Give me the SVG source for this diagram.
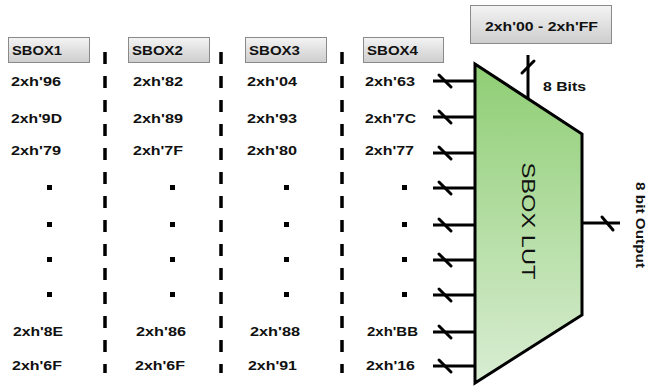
<svg xmlns="http://www.w3.org/2000/svg" width="647" height="388" viewBox="0 0 647 388">
  <style>
    .hdr { fill: url(#btn); stroke: #8a8a8a; stroke-width: 1; }
    .t { font-family: "Liberation Sans", Arial, sans-serif; font-weight: bold; font-size: 13.5px; fill: #111; }
    .sep { stroke: #000; stroke-width: 3.5; stroke-dasharray: 12 12; fill: none; }
    .dot { fill: #000; }
    .wire { stroke: #000; stroke-width: 3; fill: none; }
    .tick { stroke: #000; stroke-width: 3; stroke-linecap: round; fill: none; }
    .lut { fill: url(#green); stroke: #000; stroke-width: 3; stroke-linejoin: miter; }
  </style>
  <defs>
    <linearGradient id="btn" x1="0" y1="0" x2="0" y2="1">
      <stop offset="0" stop-color="#f4f4f4"/>
      <stop offset="1" stop-color="#cdcdcd"/>
    </linearGradient>
    <linearGradient id="green" x1="0" y1="0" x2="0" y2="1">
      <stop offset="0" stop-color="#8fce74"/>
      <stop offset="1" stop-color="#d9edd3"/>
    </linearGradient>
  </defs>

  <rect width="647" height="388" fill="#fff"/>

  <!-- column separators -->
  <g id="separators">
    <line class="sep" x1="105" y1="52" x2="105" y2="373"/>
    <line class="sep" x1="221" y1="52" x2="221" y2="373"/>
    <line class="sep" x1="342" y1="52" x2="342" y2="373"/>
  </g>

  <!-- SBOX columns -->
  <g id="sbox1">
    <rect class="hdr" x="8.5" y="37.5" width="81" height="25"/>
    <text class="t" x="12" y="55" textLength="50" lengthAdjust="spacingAndGlyphs">SBOX1</text>
    <text class="t" x="11" y="86" textLength="50" lengthAdjust="spacingAndGlyphs">2xh'96</text>
    <text class="t" x="11" y="123" textLength="51" lengthAdjust="spacingAndGlyphs">2xh'9D</text>
    <text class="t" x="11" y="155" textLength="50" lengthAdjust="spacingAndGlyphs">2xh'79</text>
    <rect class="dot" x="47" y="185" width="5" height="5"/>
    <rect class="dot" x="47" y="222" width="5" height="5"/>
    <rect class="dot" x="47" y="257" width="5" height="5"/>
    <rect class="dot" x="47" y="292" width="5" height="5"/>
    <text class="t" x="13" y="336" textLength="50" lengthAdjust="spacingAndGlyphs">2xh'8E</text>
    <text class="t" x="12" y="370" textLength="50" lengthAdjust="spacingAndGlyphs">2xh'6F</text>
  </g>

  <g id="sbox2">
    <rect class="hdr" x="128.5" y="37.5" width="81" height="25"/>
    <text class="t" x="132" y="55" textLength="51" lengthAdjust="spacingAndGlyphs">SBOX2</text>
    <text class="t" x="133" y="86" textLength="50" lengthAdjust="spacingAndGlyphs">2xh'82</text>
    <text class="t" x="133" y="123" textLength="50" lengthAdjust="spacingAndGlyphs">2xh'89</text>
    <text class="t" x="133" y="155" textLength="50" lengthAdjust="spacingAndGlyphs">2xh'7F</text>
    <rect class="dot" x="170" y="185" width="5" height="5"/>
    <rect class="dot" x="170" y="222" width="5" height="5"/>
    <rect class="dot" x="170" y="257" width="5" height="5"/>
    <rect class="dot" x="170" y="292" width="5" height="5"/>
    <text class="t" x="136" y="336" textLength="50" lengthAdjust="spacingAndGlyphs">2xh'86</text>
    <text class="t" x="135" y="370" textLength="50" lengthAdjust="spacingAndGlyphs">2xh'6F</text>
  </g>

  <g id="sbox3">
    <rect class="hdr" x="245.5" y="37.5" width="81" height="25"/>
    <text class="t" x="249" y="55" textLength="51" lengthAdjust="spacingAndGlyphs">SBOX3</text>
    <text class="t" x="247" y="86" textLength="50" lengthAdjust="spacingAndGlyphs">2xh'04</text>
    <text class="t" x="247" y="123" textLength="50" lengthAdjust="spacingAndGlyphs">2xh'93</text>
    <text class="t" x="247" y="155" textLength="50" lengthAdjust="spacingAndGlyphs">2xh'80</text>
    <rect class="dot" x="284" y="185" width="5" height="5"/>
    <rect class="dot" x="284" y="222" width="5" height="5"/>
    <rect class="dot" x="284" y="257" width="5" height="5"/>
    <rect class="dot" x="284" y="292" width="5" height="5"/>
    <text class="t" x="250" y="336" textLength="50" lengthAdjust="spacingAndGlyphs">2xh'88</text>
    <text class="t" x="248" y="370" textLength="49" lengthAdjust="spacingAndGlyphs">2xh'91</text>
  </g>

  <g id="sbox4">
    <rect class="hdr" x="363.5" y="37.5" width="80" height="25"/>
    <text class="t" x="367" y="55" textLength="51" lengthAdjust="spacingAndGlyphs">SBOX4</text>
    <text class="t" x="365" y="86" textLength="50" lengthAdjust="spacingAndGlyphs">2xh'63</text>
    <text class="t" x="365" y="123" textLength="51" lengthAdjust="spacingAndGlyphs">2xh'7C</text>
    <text class="t" x="365" y="155" textLength="49" lengthAdjust="spacingAndGlyphs">2xh'77</text>
    <rect class="dot" x="402" y="185" width="5" height="5"/>
    <rect class="dot" x="402" y="222" width="5" height="5"/>
    <rect class="dot" x="402" y="257" width="5" height="5"/>
    <rect class="dot" x="402" y="292" width="5" height="5"/>
    <text class="t" x="367" y="336" textLength="51" lengthAdjust="spacingAndGlyphs">2xh'BB</text>
    <text class="t" x="366" y="370" textLength="49" lengthAdjust="spacingAndGlyphs">2xh'16</text>
  </g>

  <!-- address range box -->
  <g id="addr">
    <rect class="hdr" x="470.5" y="5.5" width="141" height="38"/>
    <text class="t" x="485" y="31" textLength="113" lengthAdjust="spacingAndGlyphs">2xh'00 - 2xh'FF</text>
  </g>

  <!-- bus connectors -->
  <g id="connectors">
    <line class="wire" x1="433" y1="81" x2="475" y2="81"/>
    <line class="wire" x1="433" y1="117" x2="475" y2="117"/>
    <line class="wire" x1="433" y1="153" x2="475" y2="153"/>
    <line class="wire" x1="433" y1="188" x2="475" y2="188"/>
    <line class="wire" x1="433" y1="225" x2="475" y2="225"/>
    <line class="wire" x1="433" y1="260" x2="475" y2="260"/>
    <line class="wire" x1="433" y1="295" x2="475" y2="295"/>
    <line class="wire" x1="433" y1="332" x2="475" y2="332"/>
    <line class="wire" x1="433" y1="366" x2="475" y2="366"/>
    <line class="tick" x1="439" y1="75" x2="451" y2="87"/>
    <line class="tick" x1="439" y1="111" x2="451" y2="123"/>
    <line class="tick" x1="439" y1="147" x2="451" y2="159"/>
    <line class="tick" x1="439" y1="182" x2="451" y2="194"/>
    <line class="tick" x1="439" y1="219" x2="451" y2="231"/>
    <line class="tick" x1="439" y1="254" x2="451" y2="266"/>
    <line class="tick" x1="439" y1="289" x2="451" y2="301"/>
    <line class="tick" x1="439" y1="326" x2="451" y2="338"/>
    <line class="tick" x1="439" y1="360" x2="451" y2="372"/>
    <!-- 8-bit address bus -->
    <line class="wire" x1="528" y1="55" x2="528" y2="100"/>
    <line class="tick" x1="522" y1="73" x2="534" y2="61"/>
    <!-- 8-bit output bus -->
    <line class="wire" x1="582" y1="223" x2="620" y2="223"/>
    <line class="tick" x1="602" y1="217" x2="613" y2="230"/>
  </g>

  <!-- lookup table -->
  <g id="lut">
    <polygon class="lut" points="475,64 582,134 582,315 475,383"/>
    <text x="522" y="221" transform="rotate(90 522 221)" text-anchor="middle" font-family="Liberation Sans, Arial, sans-serif" font-size="19" textLength="117" lengthAdjust="spacingAndGlyphs" fill="#111">SBOX LUT</text>
  </g>

  <g id="labels">
    <text class="t" x="543" y="91" style="font-size:12.5px" textLength="43" lengthAdjust="spacingAndGlyphs">8 Bits</text>
    <text class="t" x="636" y="225" transform="rotate(90 636 225)" text-anchor="middle" style="font-size:12px" textLength="86" lengthAdjust="spacingAndGlyphs">8 bit Output</text>
  </g>
</svg>
